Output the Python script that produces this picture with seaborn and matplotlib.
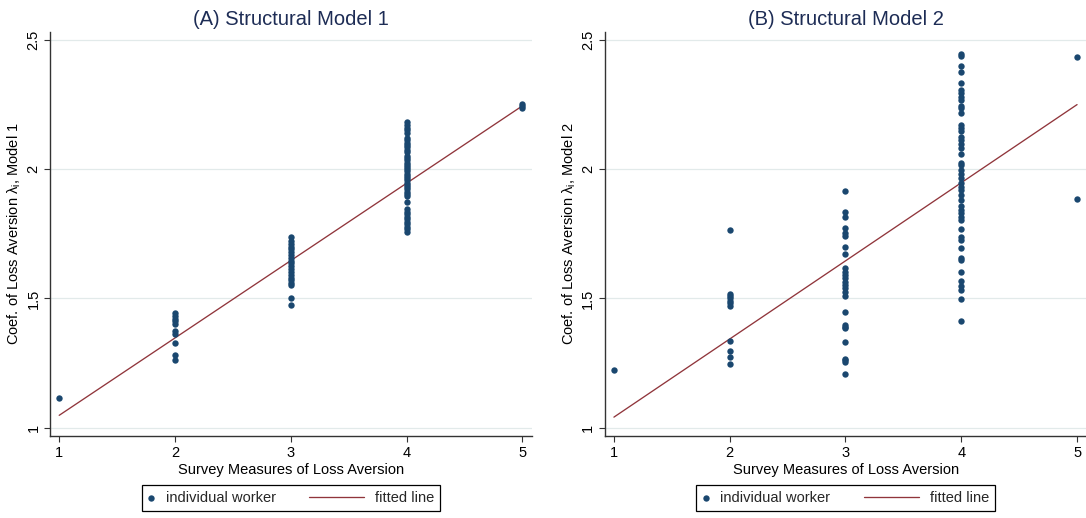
import matplotlib
matplotlib.use("Agg")
import matplotlib.pyplot as plt
import numpy as np
import pandas as pd
import seaborn as sns
from matplotlib.legend_handler import HandlerPathCollection

# Estimated loss-aversion coefficient for each worker, grouped by survey answer (1-5)
# Structural Model 1
m1_s1 = [1.115]
m1_s2 = [1.442, 1.432, 1.422, 1.412, 1.403, 1.375, 1.362, 1.329, 1.282, 1.261]
m1_s3 = [1.736, 1.724, 1.712, 1.701, 1.690, 1.679, 1.668, 1.657, 1.646, 1.636,
         1.625, 1.614, 1.603, 1.592, 1.581, 1.570, 1.560, 1.551, 1.503, 1.474]
m1_s4 = [2.183, 2.172, 2.160, 2.150, 2.141, 2.122, 2.112, 2.103, 2.094, 2.085,
         2.076, 2.068, 2.052, 2.043, 2.035, 2.026, 2.018, 2.009, 2.000, 1.992,
         1.983, 1.975, 1.966, 1.957, 1.948, 1.940, 1.931, 1.922, 1.913, 1.904,
         1.895, 1.872, 1.846, 1.836, 1.826, 1.817, 1.807, 1.797, 1.787, 1.777,
         1.768, 1.757]
m1_s5 = [2.252, 2.243, 2.235]

# Structural Model 2
m2_s1 = [1.225]
m2_s2 = [1.765, 1.519, 1.509, 1.500, 1.491, 1.481, 1.470, 1.335, 1.296, 1.274, 1.248]
m2_s3 = [1.916, 1.836, 1.817, 1.774, 1.753, 1.742, 1.701, 1.671, 1.616, 1.603,
         1.590, 1.578, 1.565, 1.552, 1.539, 1.526, 1.509, 1.448, 1.397, 1.390,
         1.384, 1.332, 1.267, 1.261, 1.255, 1.207]
m2_s4 = [2.445, 2.438, 2.401, 2.378, 2.332, 2.307, 2.294, 2.281, 2.268, 2.245,
         2.236, 2.219, 2.171, 2.159, 2.146, 2.126, 2.113, 2.098, 2.081, 2.059,
         2.026, 2.017, 1.997, 1.982, 1.965, 1.948, 1.933, 1.918, 1.901, 1.881,
         1.858, 1.843, 1.830, 1.817, 1.804, 1.769, 1.737, 1.727, 1.695, 1.656,
         1.649, 1.601, 1.567, 1.549, 1.532, 1.497, 1.412]
m2_s5 = [2.435, 1.884]

# Fitted (OLS) lines, evaluated at the ends of the survey scale
fit_x = [1, 5]
m1_fit = [1.048, 2.245]
m2_fit = [1.041, 2.250]

survey_ticks = [1, 2, 3, 4, 5]
lambda_ticks = [1, 1.5, 2, 2.5]
lambda_tick_labels = ["1", "1.5", "2", "2.5"]

titles = ["(A) Structural Model 1", "(B) Structural Model 2"]
ylabels = ["Coef. of Loss Aversion \u03bb$_\\mathregular{i}$, Model 1",
           "Coef. of Loss Aversion \u03bb$_\\mathregular{i}$, Model 2"]
xlabel = "Survey Measures of Loss Aversion"
legend_labels = ["individual worker", "fitted line"]

DOT = "#1a476f"
FIT = "#90353b"
TITLE = "#1d2c55"
AXIS = "#333333"
GRID = "#e2eaea"


def to_frame(groups):
    rows = []
    for score, values in zip(survey_ticks, groups):
        rows += [(score, v) for v in values]
    return pd.DataFrame(rows, columns=["survey", "lam"])


class CompactMarker(HandlerPathCollection):
    """Scatter legend entry with a narrow handle box."""
    def legend_artist(self, legend, orig_handle, fontsize, handlebox):
        handlebox.width = 0.48 * fontsize
        return super().legend_artist(legend, orig_handle, fontsize, handlebox)


sns.set_theme(style="white")
plt.rcParams["font.family"] = ["Liberation Sans", "DejaVu Sans"]
plt.rcParams["mathtext.fontset"] = "custom"
plt.rcParams["mathtext.rm"] = "Liberation Sans"

fig = plt.figure(figsize=(10.86, 5.18), dpi=100)
axes = [fig.add_axes([0.0463, 0.1583, 0.4433, 0.7805]),
        fig.add_axes([0.5571, 0.1583, 0.4433, 0.7805])]

panels = [
    (to_frame([m1_s1, m1_s2, m1_s3, m1_s4, m1_s5]), m1_fit),
    (to_frame([m2_s1, m2_s2, m2_s3, m2_s4, m2_s5]), m2_fit),
]

FS = 10.5
for ax, (df, fit), title, ylab in zip(axes, panels, titles, ylabels):
    sns.scatterplot(data=df, x="survey", y="lam", ax=ax, color=DOT, s=21,
                    linewidth=0, zorder=3, legend=False)
    sns.lineplot(x=fit_x, y=fit, ax=ax, color=FIT, lw=0.95, zorder=2)

    ax.set_xlim(0.923, 5.081)
    ax.set_ylim(0.968, 2.532)
    ax.set_xticks(survey_ticks)
    ax.set_xticklabels([str(t) for t in survey_ticks])
    ax.set_yticks(lambda_ticks)
    ax.set_yticklabels(lambda_tick_labels, rotation=90, va="center")

    ax.yaxis.grid(True, color=GRID, lw=0.9)
    ax.xaxis.grid(False)
    ax.set_axisbelow(True)

    for side in ("top", "right"):
        ax.spines[side].set_visible(False)
    for side in ("left", "bottom"):
        ax.spines[side].set_color(AXIS)
        ax.spines[side].set_linewidth(1.0)

    ax.tick_params(axis="both", which="major", bottom=True, left=True,
                   direction="out", length=4, width=0.8, color=AXIS,
                   labelsize=FS, labelcolor="black")
    ax.tick_params(axis="x", pad=3.5)
    ax.tick_params(axis="y", pad=3)

    ax.set_title(title, fontsize=14.5, color=TITLE, pad=5)
    ax.set_xlabel(xlabel, fontsize=FS, color="black", labelpad=2)
    ax.set_ylabel(ylab, fontsize=FS, color="black")
    ax.yaxis.set_label_coords(-0.057, 0.5)

    handles = [ax.collections[0], ax.lines[-1]]
    leg = ax.legend(handles, legend_labels, loc="center",
                    bbox_to_anchor=(0.5, -0.154), ncol=2, fontsize=FS,
                    frameon=True, fancybox=False, framealpha=1,
                    edgecolor="black", borderpad=0.4, handlelength=3.75,
                    handletextpad=0.77, columnspacing=2.3, scatterpoints=1,
                    handler_map={type(ax.collections[0]): CompactMarker()})
    leg.get_frame().set_linewidth(0.9)

fig.savefig("out.png", dpi=100)
